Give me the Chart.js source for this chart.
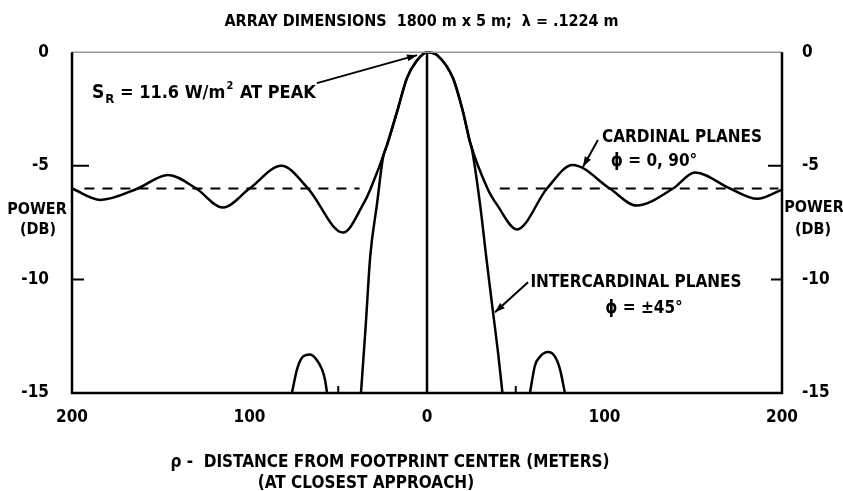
<!DOCTYPE html>
<html>
<head>
<meta charset="utf-8">
<script src="https://cdn.jsdelivr.net/npm/chart.js@4.4.1/dist/chart.umd.min.js"></script>
<style>
    html, body { margin: 0; padding: 0; background: #fff; }
</style>
</head>
<body>
<canvas id="powerChart" width="843" height="491"></canvas>
<script>
// --- Data (x = distance in meters, y = power in dB) ---
const cardinalX = [-200, -184, -163, -146, -130, -115, -100, -82, -67, -47.3, -36, -32,
    -22.5, -16.9, -11.3, -6, 0, 6, 14.6, 20.3, 24.2, 34.4, 39.4, 50.7, 67.6, 82, 103, 118,
    138.6, 151, 170.7, 186, 200];
const cardinalDb = [-6.0, -6.5, -6.0, -5.4, -6.0, -6.84, -6.0, -5.0, -6.0, -7.94, -6.7, -6.05,
    -4.08, -2.63, -1.14, -0.4, 0, -0.15, -1.14, -2.63, -3.95, -6.05, -6.71, -7.8, -6.0, -4.96, -6.0, -6.75,
    -6.0, -5.3, -6.0, -6.45, -6.05];

const interMainX = [-37.2, -34.5, -32, -28.2, -24.8, -22.5, -16.9, -11.3, -6, 0, 6, 14.6, 20.3, 24.2, 25.4,
    29.9, 33.5, 37.2, 40, 42.5];
const interMainDb = [-15, -12, -9.0, -6.7, -4.65, -4.08, -2.63, -1.14, -0.4, 0, -0.15, -1.14, -2.63, -3.95, -4.3,
    -6.7, -9.1, -11.45, -13.2, -15];

const interLeftLobeX = [-76.1, -73.2, -69.9, -65.9, -62.5, -59.2, -57.5, -56.3];
const interLeftLobeDb = [-15, -13.95, -13.4, -13.3, -13.5, -13.95, -14.4, -15];
const interRightLobeX = [58, 60.8, 63.7, 68.2, 72.1, 74.9, 77.7];
const interRightLobeDb = [-15, -13.8, -13.4, -13.2, -13.4, -13.95, -15];

const centerLineX = [0, 0];
const centerLineDb = [0, -15];

const meanLeftX = [-193, -38];
const meanRightX = [41, 198];
const meanDb = [-6, -6];

const yTicks = [0, -5, -10, -15];
const xTickStep = 100;
const xSmallTicks = [-50, 50];

const FONT = "'Liberation Sans Narrow', 'DejaVu Sans Condensed', 'Arial Narrow', sans-serif";

function toPoints(xs, ys) {
    return xs.map((x, i) => ({ x: x, y: ys[i] }));
}

function curve(xs, ys, extra) {
    return Object.assign({
        data: toPoints(xs, ys),
        borderColor: '#000',
        borderWidth: 2.5,
        pointRadius: 0,
        fill: false,
        cubicInterpolationMode: 'monotone',
        clip: false
    }, extra || {});
}

// --- Decorations: frame, inner ticks, arrows, notes ---
const arrowNotes = [
    { from: [-62, -1.36], to: [-5.6, -0.13] },
    { from: [96.3, -3.86], to: [87.9, -5.04] },
    { from: [56.9, -10.13], to: [38.3, -11.45] }
];

function drawArrow(ctx, x1, y1, x2, y2) {
    ctx.beginPath();
    ctx.moveTo(x1, y1);
    ctx.lineTo(x2, y2);
    ctx.stroke();
    const a = Math.atan2(y2 - y1, x2 - x1);
    const len = 10, half = 3.5;
    ctx.beginPath();
    ctx.moveTo(x2, y2);
    ctx.lineTo(x2 - len * Math.cos(a) + half * Math.sin(a), y2 - len * Math.sin(a) - half * Math.cos(a));
    ctx.lineTo(x2 - len * Math.cos(a) - half * Math.sin(a), y2 - len * Math.sin(a) + half * Math.cos(a));
    ctx.closePath();
    ctx.fill();
}

const decorations = {
    id: 'decorations',
    afterDatasetsDraw(chart) {
        const ctx = chart.ctx;
        const area = chart.chartArea;
        const xs = chart.scales.x;
        const ys = chart.scales.y;
        ctx.save();

        // frame
        ctx.strokeStyle = '#999';
        ctx.lineWidth = 1.5;
        ctx.beginPath();
        ctx.moveTo(area.left, area.top);
        ctx.lineTo(area.right, area.top);
        ctx.stroke();
        ctx.strokeStyle = '#000';
        ctx.lineWidth = 2.5;
        ctx.beginPath();
        ctx.moveTo(area.left, area.top);
        ctx.lineTo(area.left, area.bottom);
        ctx.lineTo(area.right, area.bottom);
        ctx.lineTo(area.right, area.top);
        ctx.stroke();

        // inner ticks at -5 and -10, small ticks on the distance axis
        ctx.lineWidth = 2;
        [-5, -10].forEach(v => {
            const py = ys.getPixelForValue(v);
            ctx.beginPath();
            ctx.moveTo(area.left, py);
            ctx.lineTo(area.left + (v === -5 ? 17 : 12), py);
            ctx.moveTo(area.right, py);
            ctx.lineTo(area.right - (v === -5 ? 14 : 11), py);
            ctx.stroke();
        });
        xSmallTicks.forEach(v => {
            const px = xs.getPixelForValue(v);
            ctx.beginPath();
            ctx.moveTo(px, area.bottom);
            ctx.lineTo(px, area.bottom - 7);
            ctx.stroke();
        });

        // arrows
        ctx.fillStyle = '#000';
        ctx.lineWidth = 2;
        arrowNotes.forEach(n => {
            drawArrow(ctx,
                xs.getPixelForValue(n.from[0]), ys.getPixelForValue(n.from[1]),
                xs.getPixelForValue(n.to[0]), ys.getPixelForValue(n.to[1]));
        });

        // notes
        ctx.textBaseline = 'alphabetic';
        ctx.textAlign = 'left';
        let x = 92;
        ctx.font = 'bold 19px ' + FONT;
        ctx.fillText('S', x, 98);
        x += ctx.measureText('S').width + 1;
        ctx.font = 'bold 13px ' + FONT;
        ctx.fillText('R', x, 103);
        x += ctx.measureText('R').width;
        ctx.font = 'bold 18px ' + FONT;
        const part1 = ' = 11.6 W/m';
        ctx.fillText(part1, x, 98);
        x += ctx.measureText(part1).width;
        ctx.font = 'bold 11px ' + FONT;
        ctx.fillText('2', x + 1, 89);
        x += ctx.measureText('2').width + 2;
        ctx.font = 'bold 18px ' + FONT;
        ctx.fillText(' AT PEAK', x, 98);

        ctx.textAlign = 'center';
        ctx.font = 'bold 17px ' + FONT;
        ctx.fillText('CARDINAL PLANES', 682, 142);
        ctx.fillText('\u03D5 = 0, 90\u00B0', 654, 166);
        ctx.fillText('INTERCARDINAL PLANES', 636, 287);
        ctx.fillText('\u03D5 = \u00B145\u00B0', 644, 313);

        // axis titles
        ctx.font = 'bold 16px ' + FONT;
        ctx.fillText('POWER', 37, 214);
        ctx.fillText('(DB)', 38, 234);
        ctx.fillText('POWER', 814, 212);
        ctx.fillText('(DB)', 813, 234);

        ctx.font = 'bold 17px ' + FONT;
        ctx.fillText('\u03C1 -  DISTANCE FROM FOOTPRINT CENTER (METERS)', 390, 467);
        ctx.fillText('(AT CLOSEST APPROACH)', 366, 488);
        ctx.restore();
    }
};

const tickFont = { family: FONT, size: 17, weight: 'bold' };

new Chart(document.getElementById('powerChart'), {
    type: 'line',
    data: {
        datasets: [
            curve(cardinalX, cardinalDb),
            curve(interMainX, interMainDb),
            curve(interLeftLobeX, interLeftLobeDb),
            curve(interRightLobeX, interRightLobeDb),
            curve(centerLineX, centerLineDb, { cubicInterpolationMode: 'default', tension: 0 }),
            curve(meanLeftX, meanDb, { borderDash: [10, 8], borderWidth: 2, cubicInterpolationMode: 'default', tension: 0 }),
            curve(meanRightX, meanDb, { borderDash: [10, 8], borderWidth: 2, cubicInterpolationMode: 'default', tension: 0 })
        ]
    },
    options: {
        responsive: false,
        devicePixelRatio: 1,
        animation: false,
        layout: { padding: 0 },
        plugins: {
            legend: { display: false },
            tooltip: { enabled: false },
            title: {
                display: true,
                text: 'ARRAY DIMENSIONS  1800 m x 5 m;  \u03BB = .1224 m',
                color: '#000',
                font: { family: FONT, size: 16, weight: 'bold' },
                padding: { top: 12, bottom: 21 }
            }
        },
        scales: {
            x: {
                type: 'linear',
                min: -200,
                max: 200,
                grid: { display: false },
                border: { display: false },
                ticks: {
                    stepSize: xTickStep,
                    color: '#000',
                    font: tickFont,
                    padding: 6,
                    callback: v => String(Math.abs(v))
                },
                afterFit: s => { s.height = 98; }
            },
            y: {
                position: 'left',
                min: -15,
                max: 0,
                grid: { display: false },
                border: { display: false },
                afterBuildTicks: s => { s.ticks = yTicks.map(v => ({ value: v })); },
                ticks: { color: '#000', font: tickFont, padding: 15 },
                afterFit: s => { s.width = 72; }
            },
            y2: {
                position: 'right',
                min: -15,
                max: 0,
                grid: { display: false },
                border: { display: false },
                afterBuildTicks: s => { s.ticks = yTicks.map(v => ({ value: v })); },
                ticks: { color: '#000', font: tickFont, padding: 12 },
                afterFit: s => { s.width = 61; }
            }
        }
    },
    plugins: [decorations]
});
</script>
</body>
</html>
